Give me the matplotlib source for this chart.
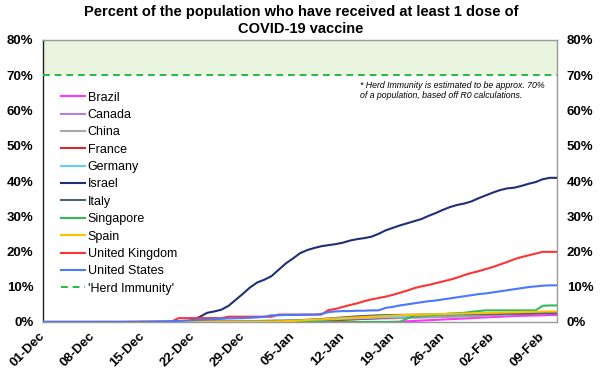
import numpy as np
import pandas as pd
import matplotlib
matplotlib.use("Agg")
import matplotlib.pyplot as plt

plt.rcParams['font.family'] = ['Liberation Sans', 'DejaVu Sans']

# ---------------- data ----------------
dates = pd.date_range('2020-12-01', '2021-02-11', freq='D')  # 73 days

brazil = [0] * 48 + [0.01, 0.05, 0.1, 0.2, 0.3, 0.4, 0.5, 0.6, 0.7, 0.8, 0.9, 1.0, 1.1, 1.2, 1.3,
                     1.4, 1.5, 1.6, 1.7, 1.75, 1.8, 1.85, 1.9, 2.0, 2.0]
canada = [0] * 14 + [0.01, 0.02, 0.04, 0.06, 0.07, 0.08, 0.1, 0.12, 0.14, 0.15, 0.17, 0.19, 0.2, 0.22,
                     0.24, 0.26, 0.28, 0.3, 0.35, 0.4, 0.45, 0.5, 0.56, 0.62, 0.68, 0.74, 0.8, 0.88,
                     0.96, 1.04, 1.12, 1.2, 1.26, 1.32, 1.38, 1.44, 1.5, 1.56, 1.62, 1.68, 1.74, 1.8,
                     1.85, 1.9, 1.95, 2.0, 2.05, 2.1, 2.15, 2.2, 2.25, 2.3, 2.35, 2.4, 2.45, 2.5, 2.55,
                     2.6, 2.6]
china = [0] * 14 + [0.1, 0.11, 0.12, 0.14, 0.15, 0.16, 0.17, 0.19, 0.2, 0.21, 0.22, 0.24, 0.25, 0.26,
                    0.28, 0.3, 0.3, 0.33, 0.36, 0.4, 0.43, 0.46, 0.5, 0.53, 0.56, 0.6, 0.65, 0.7, 0.74,
                    0.78, 0.82, 0.87, 0.91, 0.96, 1.0, 1.05, 1.1, 1.15, 1.2, 1.25, 1.3, 1.35, 1.4, 1.45,
                    1.5, 1.55, 1.6, 1.7, 1.8, 1.9, 2.0, 2.1, 2.2, 2.3, 2.4, 2.5, 2.6, 2.7, 2.7]
france = [0] * 26 + [0.0, 0.0, 0.0, 0.0, 0.01, 0.01, 0.02, 0.03, 0.05, 0.07, 0.1, 0.15, 0.2, 0.3, 0.4,
                     0.5, 0.6, 0.7, 0.8, 0.9, 1.0, 1.1, 1.2, 1.3, 1.4, 1.5, 1.55, 1.6, 1.7, 1.8, 1.85,
                     1.9, 1.95, 2.0, 2.05, 2.1, 2.15, 2.2, 2.25, 2.3, 2.35, 2.4, 2.45, 2.5, 2.55, 2.6, 2.6]
germany = [0] * 26 + [0.02, 0.05, 0.1, 0.15, 0.2, 0.25, 0.3, 0.35, 0.4, 0.45, 0.5, 0.55, 0.6, 0.68,
                      0.75, 0.82, 0.9, 0.98, 1.05, 1.12, 1.2, 1.27, 1.34, 1.4, 1.46, 1.52, 1.58, 1.64,
                      1.7, 1.76, 1.82, 1.88, 1.94, 2.0, 2.06, 2.12, 2.18, 2.24, 2.3, 2.36, 2.42, 2.5,
                      2.58, 2.66, 2.74, 2.8, 2.8]
israel = [0] * 20 + [0.1, 0.6, 1.5, 2.6, 3.0, 3.5, 4.6, 6.3, 8.0, 9.8, 11.2, 12.0, 13.0, 14.8, 16.6,
                     18.0, 19.5, 20.4, 21.0, 21.5, 21.8, 22.1, 22.5, 23.1, 23.5, 23.8, 24.2, 25.0, 26.0,
                     26.7, 27.4, 28.0, 28.6, 29.2, 30.1, 30.9, 31.8, 32.6, 33.2, 33.6, 34.2, 35.1, 35.9,
                     36.7, 37.4, 37.9, 38.1, 38.6, 39.2, 39.7, 40.5, 40.9, 40.9]
italy = [0] * 26 + [0.01, 0.02, 0.05, 0.08, 0.1, 0.12, 0.15, 0.2, 0.3, 0.4, 0.5, 0.6, 0.7, 0.85, 1.0,
                    1.15, 1.3, 1.45, 1.6, 1.7, 1.8, 1.9, 1.95, 2.0, 2.0, 2.05, 2.05, 2.1, 2.1, 2.1, 2.15,
                    2.15, 2.2, 2.2, 2.2, 2.25, 2.25, 2.3, 2.3, 2.35, 2.35, 2.4, 2.4, 2.45, 2.5, 2.5, 2.5]
singapore = [0] * 51 + [1.0, 1.7, 1.8, 1.8, 1.9, 2.2, 2.4, 2.5, 2.6, 2.9, 3.1, 3.3, 3.3, 3.3, 3.3,
                        3.3, 3.3, 3.3, 3.3, 4.6, 4.7, 4.7]
spain = [0] * 26 + [0.0, 0.01, 0.02, 0.03, 0.05, 0.08, 0.12, 0.18, 0.25, 0.35, 0.45, 0.55, 0.65, 0.75,
                    0.9, 1.0, 1.1, 1.2, 1.3, 1.4, 1.5, 1.6, 1.7, 1.8, 1.9, 2.0, 2.05, 2.1, 2.15, 2.2,
                    2.25, 2.3, 2.35, 2.4, 2.45, 2.5, 2.55, 2.6, 2.65, 2.7, 2.75, 2.8, 2.85, 2.9, 2.95,
                    3.0, 3.0]
uk = ([0] * 12 + [0.05] * 6 + [0.1] + [1.1] * 7 + [1.5] * 7 + [2.1] * 7 +
      [3.4, 3.7, 4.3, 4.8, 5.3, 5.9, 6.4, 6.8, 7.2, 7.7, 8.3, 8.9, 9.6, 10.1, 10.5, 11.0, 11.5, 12.0,
       12.6, 13.3, 13.9, 14.4, 15.0, 15.6, 16.3, 17.0, 17.8, 18.4, 18.9, 19.4, 19.9, 19.9, 19.9])
us = [0] * 14 + [0.01, 0.05, 0.1, 0.15, 0.2, 0.3, 0.4, 0.5, 0.6, 0.7, 0.8, 0.9, 1.0, 1.05, 1.1, 1.2,
                 1.3, 1.5, 1.9, 1.9, 2.0, 2.0, 2.0, 2.1, 2.1, 2.3, 2.8, 3.0, 3.1, 3.1, 3.2, 3.2, 3.3,
                 3.3, 4.0, 4.3, 4.7, 5.0, 5.3, 5.6, 5.9, 6.1, 6.4, 6.7, 7.0, 7.3, 7.6, 7.9, 8.1, 8.4,
                 8.7, 9.0, 9.3, 9.6, 9.9, 10.1, 10.3, 10.4, 10.4]

countries = ['Brazil', 'Canada', 'China', 'France', 'Germany', 'Israel', 'Italy',
             'Singapore', 'Spain', 'United Kingdom', 'United States']
series = [brazil, canada, china, france, germany, israel, italy, singapore, spain, uk, us]
colors = ['#FF33FF', '#B07FE0', '#A6A6A6', '#D42A2A', '#66CCFF', '#1F2F78', '#506474',
          '#33BB55', '#FFC000', '#FF3333', '#4A78FF']
herd_level = 70
y_max = 80
title = 'Percent of the population who have received at least 1 dose of\nCOVID-19 vaccine'
note = '* Herd Immunity is estimated to be approx. 70%\nof a population, based off R0 calculations.'

# ---------------- plot ----------------
W, H = 602, 372
fig = plt.figure(figsize=(W / 100, H / 100), dpi=100)
ax = fig.add_axes([43 / W, 1 - 322 / H, (557 - 43) / W, (322 - 40) / H])

ax.axhspan(herd_level, y_max, color='#EAF5DF', zorder=0, lw=0)
for name, vals, c in zip(countries, series, colors):
    ax.plot(dates, vals, color=c, lw=1.5, label=name, zorder=3)
ax.axhline(herd_level, color='#22BB44', lw=1.4, ls=(0, (3.5, 2.5)), label="'Herd Immunity'", zorder=4)

ax.set_xlim(dates[0], dates[-1])
ax.set_ylim(0, y_max)
ax.set_yticks(range(0, y_max + 1, 10))
ax.yaxis.set_major_formatter(lambda v, p: f'{v:.0f}%')
ax.tick_params(axis='y', length=0, labelright=True, right=False, labelsize=9.5, pad=7)
for t in ax.yaxis.get_major_ticks():
    t.label1.set_fontweight('bold')
    t.label2.set_fontweight('bold')

xt = dates[::7]
ax.set_xticks(xt)
ax.set_xticklabels([d.strftime('%d-%b') for d in xt], rotation=45, ha='right',
                   va='center', rotation_mode='anchor', fontweight='bold', fontsize=9.5)
ax.tick_params(axis='x', length=0, pad=9)

for side in ['top', 'right', 'bottom']:
    ax.spines[side].set_color('#9A9A9A')
    ax.spines[side].set_linewidth(1.0)
ax.spines['left'].set_color('#202020')
ax.spines['left'].set_linewidth(1.0)

leg = ax.legend(loc='upper left', bbox_to_anchor=(0.025, 0.835), frameon=False, fontsize=9,
                handlelength=1.9, handletextpad=0.25, labelspacing=0.43, borderaxespad=0)

ax.text((360 - 43) / (557 - 43), (322 - 81) / 282, note, transform=ax.transAxes,
        fontsize=6.3, style='italic', ha='left', va='top', linespacing=1.2)

fig.text(0.5, 1 - 5 / H, title, ha='center', va='top', fontsize=10.5, fontweight='bold',
         linespacing=1.25)

fig.savefig('out.png', dpi=100, facecolor='white')
